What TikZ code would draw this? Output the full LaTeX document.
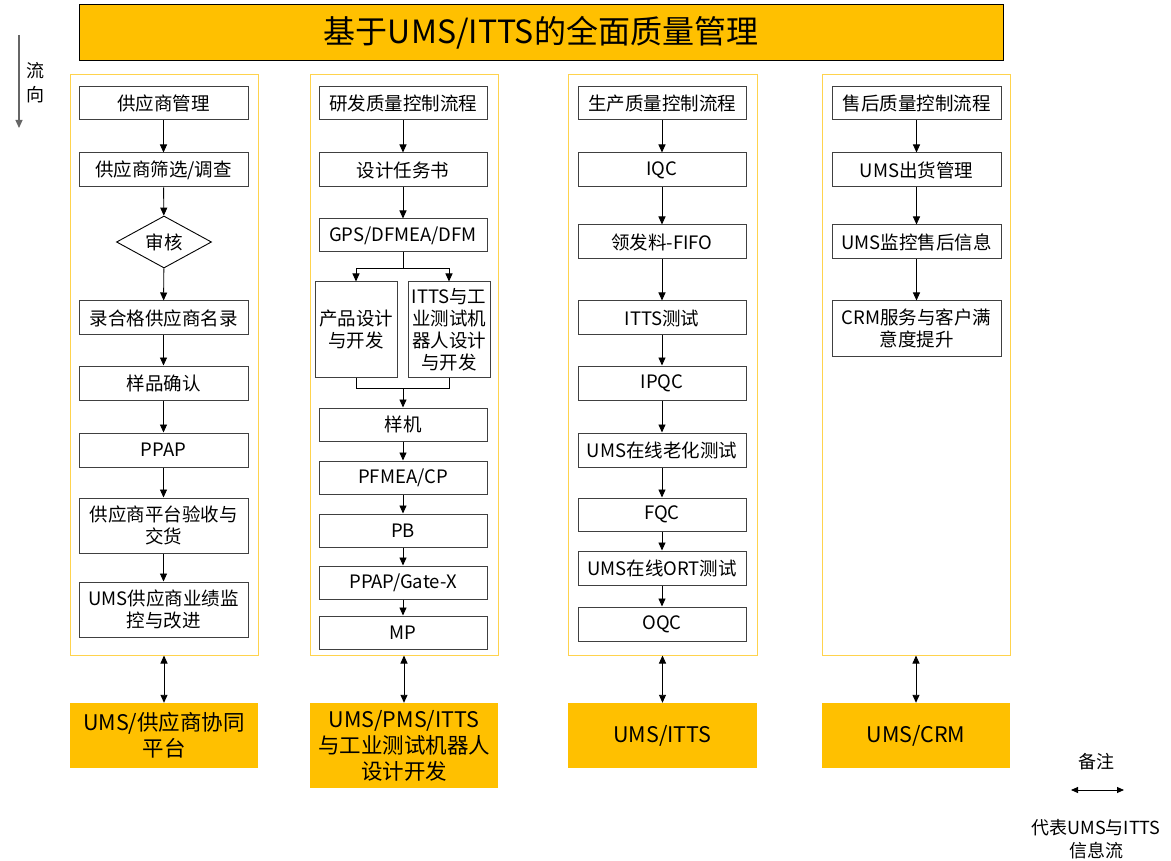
\documentclass[tikz,border=0pt]{standalone}
\usepackage{fontspec}
\setmainfont{Noto Sans CJK SC}
\usetikzlibrary{arrows.meta,shapes.geometric}
\definecolor{gold}{HTML}{FFC000}
\definecolor{lgold}{HTML}{FFD34D}
\definecolor{boxgray}{HTML}{404040}
\tikzset{
  box/.style={draw=boxgray, line width=1pt, fill=white, inner sep=1pt, align=center,
    font=\fontsize{18.5}{22}\selectfont, minimum height=34pt},
  w1/.style={minimum width=169pt},
  two/.style={minimum height=55pt},
  lane/.style={draw=lgold, line width=1pt, minimum width=188pt, minimum height=580pt, inner sep=0},
  sys/.style={fill=gold, inner sep=0, align=center, minimum width=188pt, minimum height=65pt,
    font=\fontsize{21.5}{26}\selectfont},
  flow/.style={-{Triangle[length=8pt,width=7pt]}, line width=0.9pt, black},
  dflow/.style={{Triangle[length=8pt,width=7pt]}-{Triangle[length=8pt,width=7pt]}, line width=0.9pt, black},
  seg/.style={line width=0.9pt, black}
}
\begin{document}
\begin{tikzpicture}[x=1pt,y=-1pt]
\useasboundingbox (0,0) rectangle (1171,861);
% title
\node[draw=black, line width=1pt, fill=gold, minimum width=924pt, minimum height=56pt, inner sep=0,
  font=\fontsize{32}{36}\selectfont] (title) at (541,33) {基于UMS/ITTS的全面质量管理};
% flow direction
\coordinate (fa) at (19,35);
\coordinate (fb) at (19,128);
\draw[-{Triangle[length=8pt,width=7pt]}, line width=1.2pt, black!60] (fa) -- (fb);
\node[font=\fontsize{18}{24}\selectfont, align=center, inner sep=0] (fdir) at (35,83) {流\\向};
% lanes
\node[lane] (L1) at (164,365) {};
\node[lane] (L2) at (404,365) {};
\node[lane, minimum width=189pt] (L3) at (662.5,365) {};
\node[lane] (L4) at (916,365) {};
% column 1
\node[box,w1, minimum height=33pt] (a1) at (163.5,103.5) {供应商管理};
\node[box,w1] (a2) at (163.5,170) {供应商筛选/调查};
\node[draw=black, line width=0.9pt, diamond, aspect=1.83, minimum width=95pt, minimum height=52pt, inner sep=0,
  font=\fontsize{18.5}{22}\selectfont] (a3) at (164,242) {审核};
\node[box,w1] (a4) at (163.5,318) {录合格供应商名录};
\node[box,w1] (a5) at (163.5,383) {样品确认};
\node[box,w1] (a6) at (163.5,450) {PPAP};
\node[box,w1,two] (a7) at (163.5,525.5) {供应商平台验收与\\交货};
\node[box,w1,two] (a8) at (163.5,609.5) {UMS供应商业绩监\\控与改进};
\draw[flow] (a1) -- (a2);
\draw[flow] (a2) -- (a3);
\draw[flow] (a3) -- (a4);
\draw[flow] (a4) -- (a5);
\draw[flow] (a5) -- (a6);
\draw[flow] (a6) -- (a7);
\draw[flow] (a7) -- (a8);
% column 2
\node[box,w1, minimum width=168pt, minimum height=33pt] (b1) at (403,103.5) {研发质量控制流程};
\node[box, minimum width=168pt] (b2) at (403,170) {设计任务书};
\node[box, minimum width=168pt, minimum height=33pt] (b3) at (403,235.5) {GPS/DFMEA/DFM};
\node[box, minimum width=82pt, minimum height=95pt] (b4) at (356,329.5) {产品设计\\与开发};
\node[box, minimum width=82pt, minimum height=95pt] (b5) at (449,329.5) {ITTS与工\\业测试机\\器人设计\\与开发};
\node[box, minimum width=168pt, minimum height=33pt] (b6) at (403,424.5) {样机};
\node[box, minimum width=168pt, minimum height=33pt] (b7) at (403,477.5) {PFMEA/CP};
\node[box, minimum width=168pt, minimum height=33pt] (b8) at (403,530.5) {PB};
\node[box, minimum width=168pt, minimum height=33pt] (b9) at (403,582.5) {PPAP/Gate-X};
\node[box, minimum width=168pt, minimum height=33pt] (b10) at (403,632.5) {MP};
\draw[flow] (b1) -- (b2);
\draw[flow] (b2) -- (b3);
\coordinate (sp) at (403,268);
\coordinate (mg) at (403,388);
\draw[seg] (b3.south) -- (sp);
\draw[flow] (sp) -| (b4.north);
\draw[flow] (sp) -| (b5.north);
\draw[seg] (b4.south) |- (mg);
\draw[seg] (b5.south) |- (mg);
\draw[flow] (mg) -- (b6.north);
\draw[flow] (b6) -- (b7);
\draw[flow] (b7) -- (b8);
\draw[flow] (b8) -- (b9);
\draw[flow] (b9) -- (b10);
% column 3
\node[box, minimum width=168pt, minimum height=33pt] (c1) at (662,103.5) {生产质量控制流程};
\node[box, minimum width=168pt] (c2) at (662,170) {IQC};
\node[box, minimum width=168pt] (c3) at (662,242) {领发料-FIFO};
\node[box, minimum width=168pt] (c4) at (662,318) {ITTS测试};
\node[box, minimum width=168pt] (c5) at (662,383) {IPQC};
\node[box, minimum width=168pt] (c6) at (662,450) {UMS在线老化测试};
\node[box, minimum width=168pt, minimum height=33pt] (c7) at (662,514.5) {FQC};
\node[box, minimum width=168pt] (c8) at (662,568) {UMS在线ORT测试};
\node[box, minimum width=168pt] (c9) at (662,624) {OQC};
\draw[flow] (c1) -- (c2);
\draw[flow] (c2) -- (c3);
\draw[flow] (c3) -- (c4);
\draw[flow] (c4) -- (c5);
\draw[flow] (c5) -- (c6);
\draw[flow] (c6) -- (c7);
\draw[flow] (c7) -- (c8);
\draw[flow] (c8) -- (c9);
% column 4
\node[box,w1, minimum height=33pt] (d1) at (916.5,103.5) {售后质量控制流程};
\node[box,w1] (d2) at (916.5,170) {UMS出货管理};
\node[box,w1] (d3) at (916.5,242) {UMS监控售后信息};
\node[box,w1,two] (d4) at (916.5,328.5) {CRM服务与客户满\\意度提升};
\draw[flow] (d1) -- (d2);
\draw[flow] (d2) -- (d3);
\draw[flow] (d3) -- (d4);
% systems
\node[sys] (s1) at (164,735.5) {UMS/供应商协同\\平台};
\node[sys, minimum height=85pt] (s2) at (404,745.5) {UMS/PMS/ITTS\\与工业测试机器人\\设计开发};
\node[sys, minimum width=189pt] (s3) at (662.5,735.5) {UMS/ITTS};
\node[sys] (s4) at (916,735.5) {UMS/CRM};
\draw[dflow] (L1.south) -- (s1.north);
\draw[dflow] (L2.south) -- (s2.north);
\draw[dflow] (L3.south) -- (s3.north);
\draw[dflow] (L4.south) -- (s4.north);
% legend
\node[font=\fontsize{18}{22}\selectfont, inner sep=0] (note) at (1096,762) {备注};
\coordinate (la) at (1071,790);
\coordinate (lb) at (1124,790);
\draw[{Triangle[length=7pt,width=6pt]}-{Triangle[length=7pt,width=6pt]}, line width=0.9pt] (la) -- (lb);
\node[font=\fontsize{18}{23}\selectfont, align=center, inner sep=0] (legtxt) at (1096,839) {代表UMS与ITTS\\信息流};
\end{tikzpicture}
\end{document}
